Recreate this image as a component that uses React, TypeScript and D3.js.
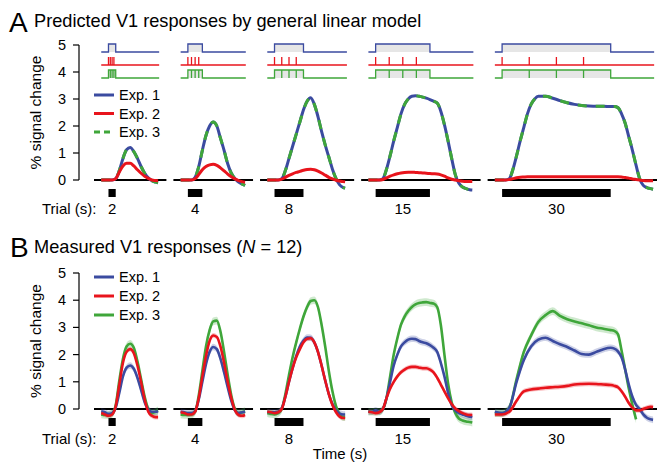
import * as d3 from "d3"

// trial lengths (s) and the 4 stimulus events inside each trial
const trials = [2, 4, 8, 15, 30]
const stimEvents = [
  [0, 0.5, 1, 1.5],
  [0, 1, 2, 3],
  [0, 2, 4, 6],
  [0, 3.75, 7.5, 11.25],
  [0, 7.5, 15, 22.5],
]

const expLabels = ["Exp. 1", "Exp. 2", "Exp. 3"]
const expColors = ["#3b4ba0", "#e8141c", "#3fa63a"]
const yTicks = [0, 1, 2, 3, 4, 5]

// A: model predictions (% signal change), time in s from trial onset
const modelTimes = [
  [-2, -1, 0, 1, 2, 3, 4, 5, 6, 7, 8, 9, 10, 11, 12, 13, 13.7],
  [-2, -1, 0, 1, 2, 3, 4, 5, 6, 7, 8, 9, 10, 11, 12, 13, 14, 15, 15.8],
  [-2, -1, 0, 1, 2, 3, 4, 5, 6, 7, 8, 9, 10, 11, 12, 13, 14, 15, 16, 17, 18, 19, 19.5],
  [-2, -1, 0, 1, 2, 3, 4, 5, 6, 7, 8, 9, 10, 11, 12, 13, 14, 15, 16, 17, 18, 19, 20, 21, 22, 23, 24, 25, 26, 26.7],
  [-2, -1, 0, 1, 2, 3, 4, 5, 6, 7, 8, 9, 10, 12, 14, 16, 18, 20, 22, 24, 26, 28, 30, 31, 32, 33, 34, 35, 36, 37, 38, 39, 40, 41, 41.7],
]
const modelExp1 = [
  [0, 0, 0, 0, 0.05, 0.35, 0.8, 1.12, 1.2, 1.05, 0.8, 0.5, 0.25, 0.08, -0.03, -0.08, -0.1],
  [0, 0, 0, 0, 0.1, 0.5, 1.1, 1.65, 2.0, 2.15, 2.0, 1.55, 1.1, 0.6, 0.25, 0.05, -0.08, -0.15, -0.2],
  [0, 0, 0, 0, 0.05, 0.35, 0.8, 1.25, 1.7, 2.15, 2.6, 2.92, 3.05, 2.8, 2.35, 1.8, 1.3, 0.85, 0.4, 0.05, -0.18, -0.28, -0.3],
  [0, 0, 0, 0, 0.05, 0.4, 0.9, 1.45, 1.95, 2.45, 2.8, 3.0, 3.1, 3.12, 3.1, 3.07, 3.03, 2.98, 2.92, 2.85, 2.55, 2.05, 1.45, 0.8, 0.2, -0.12, -0.26, -0.32, -0.36, -0.37],
  [0, 0, 0, 0, 0.05, 0.4, 0.9, 1.45, 1.95, 2.45, 2.8, 3.0, 3.1, 3.1, 3.03, 2.94, 2.86, 2.8, 2.76, 2.74, 2.73, 2.73, 2.72, 2.72, 2.68, 2.45, 2.1, 1.6, 1.1, 0.55, 0.05, -0.2, -0.28, -0.32, -0.34],
]
const modelExp2 = [
  [0, 0, 0, 0, 0.05, 0.3, 0.52, 0.62, 0.62, 0.52, 0.38, 0.25, 0.14, 0.06, 0.0, -0.02, -0.03],
  [0, 0, 0, 0, 0.05, 0.2, 0.38, 0.5, 0.56, 0.58, 0.54, 0.45, 0.34, 0.22, 0.12, 0.04, -0.02, -0.06, -0.08],
  [0, 0, 0, 0, 0.03, 0.1, 0.17, 0.23, 0.28, 0.32, 0.36, 0.39, 0.4, 0.38, 0.33, 0.26, 0.18, 0.1, 0.04, -0.01, -0.04, -0.06, -0.07],
  [0, 0, 0, 0, 0.02, 0.08, 0.14, 0.19, 0.23, 0.26, 0.28, 0.29, 0.29, 0.28, 0.27, 0.26, 0.25, 0.24, 0.23, 0.22, 0.19, 0.14, 0.08, 0.03, 0.0, -0.03, -0.05, -0.06, -0.06, -0.06],
  [0, 0, 0, 0, 0.02, 0.05, 0.08, 0.1, 0.11, 0.12, 0.12, 0.12, 0.12, 0.12, 0.12, 0.12, 0.12, 0.12, 0.12, 0.12, 0.12, 0.12, 0.12, 0.12, 0.12, 0.11, 0.09, 0.07, 0.04, 0.02, 0.0, -0.02, -0.03, -0.03, -0.03],
]
// Exp. 3 prediction is identical to Exp. 1
const modelExp3 = modelExp1

// B: measured responses (N = 12)
const measTimes = [
  [-2, -1, 0, 1, 2, 3, 4, 5, 6, 7, 8, 9, 10, 11, 12, 13, 13.7],
  [-2, -1, 0, 1, 2, 3, 4, 5, 6, 7, 8, 9, 10, 11, 12, 13, 14, 15, 15.8],
  [-2, -1, 0, 1, 2, 3, 4, 5, 6, 7, 8, 9, 10, 11, 12, 13, 14, 15, 16, 17, 18, 19, 19.5],
  [-2, -1, 0, 1, 2, 3, 4, 5, 6, 7, 8, 9, 10, 11, 12, 13, 14, 15, 16, 17, 18, 19, 20, 21, 22, 23, 24, 25, 26, 26.7],
  [-2, 0, 2, 4, 6, 8, 10, 12, 14, 16, 18, 20, 22, 24, 26, 28, 30, 31, 32, 33, 34, 35, 36, 37, 38, 39, 40, 41, 41.7],
]
const measExp1 = [
  [-0.08, -0.12, -0.18, -0.15, 0.05, 0.6, 1.2, 1.52, 1.6, 1.48, 1.15, 0.7, 0.25, -0.02, -0.1, -0.1, -0.08],
  [-0.1, -0.12, -0.15, -0.15, -0.08, 0.35, 1.0, 1.65, 2.1, 2.28, 2.2, 1.85, 1.35, 0.8, 0.3, -0.05, -0.15, -0.12, -0.1],
  [-0.1, -0.12, -0.12, -0.1, 0.02, 0.45, 1.0, 1.5, 1.95, 2.3, 2.52, 2.63, 2.62, 2.45, 2.1, 1.6, 1.05, 0.55, 0.18, -0.05, -0.17, -0.2, -0.2],
  [-0.1, -0.1, -0.05, -0.1, 0.0, 0.4, 1.0, 1.6, 2.0, 2.3, 2.45, 2.55, 2.58, 2.57, 2.5, 2.45, 2.42, 2.35, 2.25, 2.1, 1.7, 1.2, 0.6, 0.15, -0.05, -0.15, -0.2, -0.25, -0.28, -0.3],
  [-0.1, -0.15, 0.05, 1.0, 1.8, 2.3, 2.55, 2.62, 2.5, 2.38, 2.28, 2.15, 2.02, 2.0, 2.1, 2.2, 2.25, 2.22, 2.12, 1.9, 1.45, 0.9, 0.45, 0.15, 0.0, -0.2, -0.32, -0.38, -0.4],
]
const measExp2 = [
  [-0.15, -0.2, -0.25, -0.2, 0.1, 0.9, 1.7, 2.1, 2.2, 2.05, 1.6, 1.0, 0.35, -0.1, -0.25, -0.3, -0.3],
  [-0.12, -0.15, -0.2, -0.2, -0.1, 0.4, 1.2, 1.95, 2.5, 2.7, 2.65, 2.3, 1.7, 1.0, 0.4, -0.05, -0.22, -0.25, -0.22],
  [-0.1, -0.12, -0.15, -0.12, 0.0, 0.45, 1.0, 1.5, 1.9, 2.2, 2.45, 2.58, 2.6, 2.45, 2.1, 1.6, 1.05, 0.55, 0.15, -0.12, -0.28, -0.33, -0.33],
  [-0.1, -0.12, -0.15, -0.12, 0.0, 0.4, 0.75, 1.0, 1.2, 1.35, 1.45, 1.52, 1.55, 1.55, 1.52, 1.5, 1.5, 1.45, 1.35, 1.15, 0.9, 0.65, 0.4, 0.18, 0.02, -0.08, -0.15, -0.2, -0.22, -0.22],
  [-0.2, -0.2, -0.1, 0.3, 0.65, 0.72, 0.75, 0.78, 0.8, 0.82, 0.85, 0.9, 0.92, 0.93, 0.92, 0.9, 0.88, 0.85, 0.8, 0.65, 0.45, 0.22, 0.05, -0.05, -0.05, 0.0, 0.05, 0.08, 0.07],
]
const measExp3 = [
  [-0.2, -0.22, -0.22, -0.18, 0.15, 1.05, 1.85, 2.3, 2.4, 2.25, 1.75, 1.1, 0.45, 0.0, -0.15, -0.1, -0.05],
  [-0.2, -0.22, -0.22, -0.2, -0.1, 0.5, 1.4, 2.3, 2.9, 3.22, 3.25, 2.85, 2.1, 1.25, 0.5, 0.0, -0.15, -0.12, -0.08],
  [-0.15, -0.18, -0.2, -0.15, 0.0, 0.55, 1.25, 1.9, 2.45, 2.95, 3.4, 3.75, 3.97, 4.0, 3.75, 3.1, 2.3, 1.4, 0.65, 0.1, -0.2, -0.3, -0.3],
  [-0.1, -0.1, -0.1, -0.1, 0.0, 0.4, 1.2, 2.0, 2.6, 3.1, 3.4, 3.6, 3.75, 3.85, 3.9, 3.92, 3.93, 3.9, 3.88, 3.75, 3.1, 2.0, 0.95, 0.25, -0.15, -0.35, -0.42, -0.46, -0.48, -0.5],
  [-0.15, -0.15, 0.05, 1.1, 2.1, 2.7, 3.2, 3.45, 3.6, 3.42, 3.3, 3.22, 3.15, 3.08, 3.0, 2.95, 2.9, 2.87, 2.75, 2.15, 1.45, 0.75, 0.15, -0.38, null, null, null, null, null],
]
const measSem = [0.12, 0.09, 0.14]

const FONT = "'Liberation Sans', Arial, Helvetica, sans-serif"
const W = 657
const H = 464
const PX_PER_S = 3.62
const PRE = 4
const POST = 14
const GAP = 7
const X0 = 94

type Vals = (number | null)[]

export default function App() {
  const starts: number[] = []
  let acc = X0
  trials.forEach((T) => {
    starts.push(acc)
    acc += (T + PRE + POST) * PX_PER_S + GAP
  })
  const xScales = trials.map((T, i) =>
    d3
      .scaleLinear()
      .domain([-PRE, T + POST])
      .range([starts[i], starts[i] + (T + PRE + POST) * PX_PER_S])
  )
  const yA = d3.scaleLinear().domain([0, 5]).range([180, 45])
  const yB = d3.scaleLinear().domain([0, 5]).range([409, 273])

  const linePath = (x: any, y: any, times: number[], vals: Vals) =>
    d3
      .line<number | null>()
      .defined((v) => v != null)
      .x((_, j) => x(times[j]))
      .y((v) => y(v as number))
      .curve(d3.curveMonotoneX)(vals) || ""

  const bandPath = (x: any, y: any, times: number[], vals: Vals, sem: number) =>
    d3
      .area<number | null>()
      .defined((v) => v != null)
      .x((_, j) => x(times[j]))
      .y0((v) => y((v as number) - sem))
      .y1((v) => y((v as number) + sem))
      .curve(d3.curveMonotoneX)(vals) || ""

  const axis = (y: any) => {
    const x = X0 - 15
    return (
      <g>
        <line x1={x} x2={x} y1={y(5)} y2={y(0)} stroke="#000" strokeWidth={1.2} />
        {yTicks.map((t) => (
          <g key={t}>
            <line x1={x - 6} x2={x} y1={y(t)} y2={y(t)} stroke="#000" strokeWidth={1.2} />
            <text x={x - 13} y={y(t) + 5} textAnchor="end" fontSize={14.5}>
              {t}
            </text>
          </g>
        ))}
      </g>
    )
  }

  const trialRow = (y: any, barTop: number, labelY: number) => (
    <g>
      {trials.map((T, i) => {
        const x = xScales[i]
        return (
          <g key={T}>
            <line x1={x(-PRE)} x2={x(T + POST)} y1={y(0)} y2={y(0)} stroke="#000" strokeWidth={2} />
            <rect x={x(0)} width={x(T) - x(0)} y={barTop} height={8} fill="#000" />
            <text x={(x(0) + x(T)) / 2} y={labelY} textAnchor="middle" fontSize={15}>
              {T}
            </text>
          </g>
        )
      })}
      <text x={42} y={labelY} fontSize={15}>
        Trial (s):
      </text>
    </g>
  )

  const legend = (yPos: number[], dashed3: boolean) => (
    <g>
      {expLabels.map((lab, k) => (
        <g key={lab}>
          <line
            x1={94}
            x2={114}
            y1={yPos[k]}
            y2={yPos[k]}
            stroke={expColors[k]}
            strokeWidth={3}
            strokeDasharray={dashed3 && k === 2 ? "6,4" : undefined}
          />
          <text x={119} y={yPos[k] + 5} fontSize={14.5}>
            {lab}
          </text>
        </g>
      ))}
    </g>
  )

  // stimulus schematic above panel A
  const rowBase = [52, 65, 78]
  const rowH = 8
  const stimRows = trials.map((T, i) => {
    const x = xScales[i]
    const a = x(-2)
    const b = x(T + 12)
    const on = x(0)
    const off = x(T)
    const pulse = (base: number) => `M${a},${base}H${on}V${base - rowH}H${off}V${base}H${b}`
    return (
      <g key={T} fill="none" strokeWidth={1.3}>
        <rect x={on} y={rowBase[0] - rowH} width={off - on} height={rowH} fill="#e6e6e6" />
        <rect x={on} y={rowBase[2] - rowH} width={off - on} height={rowH} fill="#e6e6e6" />
        <path d={pulse(rowBase[0])} stroke={expColors[0]} />
        <line x1={a} x2={b} y1={rowBase[1]} y2={rowBase[1]} stroke={expColors[1]} />
        {stimEvents[i].map((e) => (
          <line key={e} x1={x(e)} x2={x(e)} y1={rowBase[1]} y2={rowBase[1] - rowH} stroke={expColors[1]} />
        ))}
        <path d={pulse(rowBase[2])} stroke={expColors[2]} />
        {stimEvents[i]
          .filter((e) => e > 0)
          .map((e) => (
            <line key={e} x1={x(e)} x2={x(e)} y1={rowBase[2]} y2={rowBase[2] - rowH} stroke={expColors[2]} />
          ))}
      </g>
    )
  })

  const modelSeries = [modelExp1, modelExp3, modelExp2]
  const measSeries = [measExp1, measExp2, measExp3]

  return (
    <svg
      width={W}
      height={H}
      style={{ position: "absolute", left: 0, top: 0, background: "#fff" }}
      fontFamily={FONT}
      fill="#000"
    >
      {/* Panel A */}
      <text x={9} y={32} fontSize={28}>
        A
      </text>
      <text x={34} y={27} fontSize={18.2}>
        Predicted V1 responses by general linear model
      </text>
      <text transform={`translate(41,${(yA(0) + yA(5)) / 2}) rotate(-90)`} textAnchor="middle" fontSize={15.5}>
        % signal change
      </text>
      {axis(yA)}
      {stimRows}
      {trialRow(yA, 189, 214)}
      {trials.map((T, i) => {
        const x = xScales[i]
        const t = modelTimes[i]
        return (
          <g key={T} fill="none" strokeLinecap="butt">
            <path d={linePath(x, yA, t, modelSeries[0][i])} stroke={expColors[0]} strokeWidth={3} />
            <path
              d={linePath(x, yA, t, modelSeries[1][i])}
              stroke={expColors[2]}
              strokeWidth={3}
              strokeDasharray="9,9"
            />
            <path d={linePath(x, yA, t, modelSeries[2][i])} stroke={expColors[1]} strokeWidth={3} />
          </g>
        )
      })}
      {legend([95, 113.5, 132], true)}

      {/* Panel B */}
      <text x={10} y={257} fontSize={28}>
        B
      </text>
      <text x={34} y={253} fontSize={18.2}>
        Measured V1 responses (<tspan fontStyle="italic">N</tspan> = 12)
      </text>
      <text transform={`translate(41,${(yB(0) + yB(5)) / 2}) rotate(-90)`} textAnchor="middle" fontSize={15.5}>
        % signal change
      </text>
      {axis(yB)}
      {trialRow(yB, 418, 444)}
      {trials.map((T, i) => {
        const x = xScales[i]
        const t = measTimes[i]
        return (
          <g key={T}>
            {measSeries.map((s, k) => (
              <path key={k} d={bandPath(x, yB, t, s[i], measSem[k])} fill={expColors[k]} fillOpacity={0.25} />
            ))}
            {[2, 0, 1].map((k) => (
              <path
                key={k}
                d={linePath(x, yB, t, measSeries[k][i])}
                fill="none"
                stroke={expColors[k]}
                strokeWidth={2.6}
              />
            ))}
          </g>
        )
      })}
      {legend([277, 296, 315], false)}
      <text x={340} y={459} textAnchor="middle" fontSize={15}>
        Time (s)
      </text>
    </svg>
  )
}
